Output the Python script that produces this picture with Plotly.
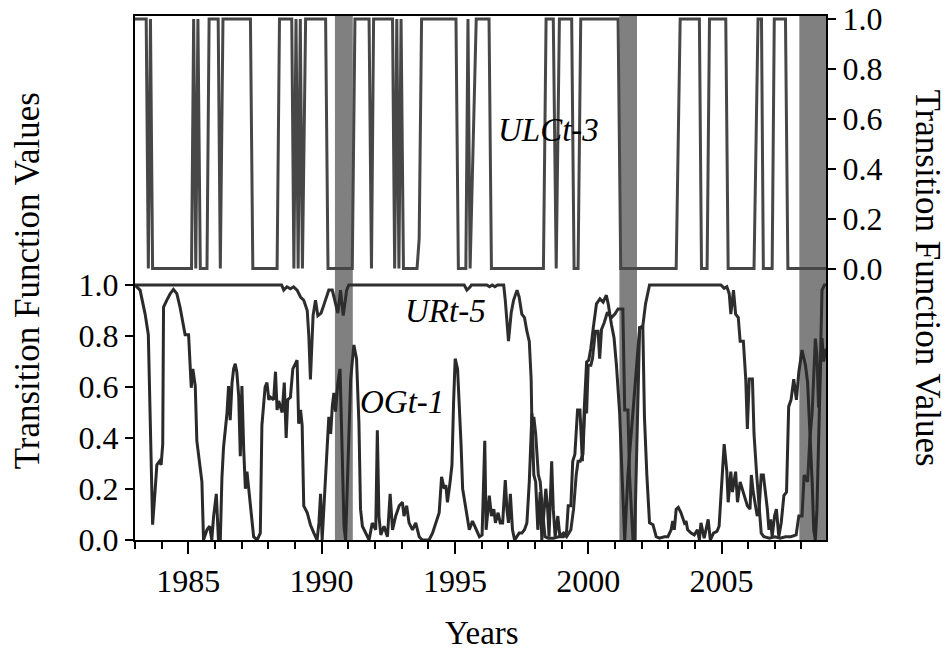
import plotly.graph_objects as go

# ---------------- data ----------------
recession_start = [1990.50, 2001.17, 2007.92]
recession_end = [1991.17, 2001.83, 2008.92]

ulc_years = [1983.00, 1983.42, 1983.50, 1983.58, 1983.66,
             1985.12, 1985.20, 1985.28, 1985.36, 1985.45, 1985.70, 1985.78,
             1986.12, 1986.20, 1986.30, 1987.33, 1987.42, 1988.33, 1988.42,
             1988.88, 1988.96, 1989.04, 1989.12, 1989.20, 1989.28, 1989.40,
             1990.15, 1990.24, 1991.15, 1991.25, 1991.78, 1991.87, 1991.95,
             1992.66, 1992.74, 1992.82, 1992.90, 1992.98, 1993.07, 1993.58,
             1993.66, 1993.75, 1995.04, 1995.13, 1995.41, 1995.49, 1995.57,
             1995.80, 1996.28, 1996.37, 1998.32, 1998.42, 1998.69, 1998.80,
             1998.92, 1999.38, 1999.47, 1999.62, 1999.72, 2001.12, 2001.22,
             2003.30, 2003.45, 2004.17, 2004.25, 2004.46, 2004.55, 2005.16,
             2005.25, 2006.22, 2006.37, 2006.50, 2006.57, 2006.90, 2006.98,
             2007.40, 2007.49, 2008.92]
ulc_values = [1, 1, 0, 1, 0,
              0, 1, 0, 1, 0, 0, 1,
              1, 0, 1, 1, 0, 0, 1,
              1, 0, 1, 0, 1, 0, 1,
              1, 0, 0, 1, 1, 0, 1,
              1, 0, 1, 0, 1, 0, 0,
              0.12, 1, 1, 0, 0, 1, 0,
              1, 1, 0, 0, 1, 1, 0,
              1, 1, 0, 0, 1, 1, 0,
              0, 1, 1, 0, 0, 1, 1,
              0, 0, 1, 1, 0, 0, 1,
              1, 0, 0]

ur_years = [1983.00, 1988.50, 1988.58, 1988.70, 1988.83, 1988.95, 1989.08, 1989.21,
            1989.33, 1989.46, 1989.52, 1989.58, 1989.68, 1989.77, 1989.86, 1989.98,
            1990.11, 1990.27, 1990.40, 1990.52, 1990.61, 1990.71, 1990.81, 1990.94,
            1991.02, 1995.35, 1995.45, 1995.55, 1995.62, 1996.20, 1996.30, 1996.40,
            1996.50, 1996.60, 1996.83, 1996.89, 1997.01, 1997.11, 1997.20, 1997.33,
            1997.41, 1997.51, 1997.61, 1997.70, 1997.79, 1997.86, 1997.89, 1997.96,
            1998.03, 1998.13, 1998.20, 1998.28, 1998.38, 1998.50, 1998.70, 1998.90,
            1999.07, 1999.19, 1999.35, 1999.45, 1999.55, 1999.62, 1999.70, 1999.80,
            1999.87, 1999.94, 2000.00, 2000.10, 2000.16, 2000.27, 2000.37, 2000.43,
            2000.50, 2000.60, 2000.72, 2000.87, 2001.00, 2001.12, 2001.30, 2001.37,
            2001.49, 2001.55, 2001.68, 2001.74, 2001.83, 2001.93, 2002.05, 2002.15,
            2002.30, 2004.85, 2004.98, 2005.10, 2005.20, 2005.29, 2005.35, 2005.45,
            2005.53, 2005.63, 2005.70, 2005.82, 2005.91, 2005.97, 2006.04, 2006.16,
            2006.22, 2006.32, 2006.41, 2006.49, 2006.59, 2006.80, 2007.00, 2007.20,
            2007.40, 2007.60, 2007.80, 2007.90, 2008.02, 2008.10, 2008.23, 2008.31,
            2008.40, 2008.52, 2008.58, 2008.64, 2008.71, 2008.77, 2008.86, 2008.92]
ur_values = [1.0, 1.0, 0.98, 0.993, 0.985, 0.993, 0.98, 0.953,
             0.94, 0.90, 0.80, 0.63, 0.88, 0.94, 0.88, 0.89,
             0.93, 0.98, 0.98, 0.93, 0.89, 0.98, 0.88, 0.98,
             1.0, 1.0, 0.98, 0.99, 1.0, 1.0, 0.993, 1.0,
             0.993, 1.0, 1.0, 0.94, 0.78, 0.89, 0.94, 0.98,
             0.953, 0.886, 0.872, 0.819, 0.779, 0.631, 0.443, 0.483,
             0.416, 0.255, 0.228, 0.121, 0.013, 0.007, 0.007, 0.013,
             0.027, 0.013, 0.040, 0.121, 0.255, 0.309, 0.309, 0.336,
             0.510, 0.497, 0.685, 0.685, 0.711, 0.819, 0.819, 0.711,
             0.826, 0.852, 0.893, 0.872, 0.886, 0.906, 0.906, 0.51,
             0.51, 0.255, 0.0, 0.0, 0.389, 0.832, 0.84, 0.926,
             1.0, 1.0, 1.0, 0.987, 0.993, 0.966, 0.886, 0.98,
             0.886, 0.872, 0.779, 0.779, 0.631, 0.436, 0.631, 0.631,
             0.416, 0.255, 0.121, 0.027, 0.013, 0.007, 0.013, 0.007,
             0.013, 0.013, 0.020, 0.094, 0.094, 0.255, 0.228, 0.389,
             0.50, 0.79, 0.725, 0.52, 0.70, 0.98, 1.0, 1.0]

og_years = [1983.00, 1983.19, 1983.38, 1983.50, 1983.56, 1983.63, 1983.66, 1983.75,
            1983.82, 1983.92, 1983.98, 1984.04, 1984.07, 1984.19, 1984.32, 1984.44,
            1984.57, 1984.69, 1984.82, 1984.88, 1985.01, 1985.07, 1985.11, 1985.17,
            1985.26, 1985.32, 1985.45, 1985.51, 1985.57, 1985.70, 1985.80, 1985.88,
            1985.95, 1986.05, 1986.13, 1986.20, 1986.26, 1986.32, 1986.45, 1986.51,
            1986.57, 1986.64, 1986.70, 1986.76, 1986.82, 1986.89, 1986.95, 1987.01,
            1987.08, 1987.14, 1987.20, 1987.26, 1987.33, 1987.45, 1987.58, 1987.70,
            1987.76, 1987.88, 1987.95, 1988.02, 1988.08, 1988.20, 1988.27, 1988.33,
            1988.39, 1988.52, 1988.60, 1988.67, 1988.73, 1988.83, 1988.92, 1989.08,
            1989.14, 1989.21, 1989.27, 1989.33, 1989.46, 1989.58, 1989.71, 1989.83,
            1989.90, 1989.96, 1990.02, 1990.15, 1990.21, 1990.27, 1990.34, 1990.40,
            1990.46, 1990.52, 1990.61, 1990.69, 1990.77, 1990.84, 1990.90, 1990.96,
            1991.09, 1991.21, 1991.31, 1991.40, 1991.46, 1991.53, 1991.65, 1991.78,
            1991.90, 1992.03, 1992.09, 1992.15, 1992.22, 1992.34, 1992.47, 1992.57,
            1992.66, 1992.78, 1992.91, 1993.03, 1993.09, 1993.19, 1993.28, 1993.41,
            1993.53, 1993.66, 1993.78, 1993.91, 1994.03, 1994.16, 1994.29, 1994.41,
            1994.50, 1994.60, 1994.66, 1994.72, 1994.82, 1994.89, 1994.95, 1995.01,
            1995.10, 1995.16, 1995.23, 1995.29, 1995.41, 1995.54, 1995.66, 1995.79,
            1995.92, 1996.02, 1996.12, 1996.17, 1996.24, 1996.29, 1996.37, 1996.46,
            1996.52, 1996.62, 1996.70, 1996.79, 1996.89, 1996.95, 1997.01, 1997.08,
            1997.16, 1997.24, 1997.41, 1997.51, 1997.61, 1997.70, 1997.79, 1997.89,
            1997.96, 1998.03, 1998.11, 1998.20, 1998.26, 1998.36, 1998.41, 1998.48,
            1998.53, 1998.63, 1998.69, 1998.76, 1998.86, 1998.94, 1999.07, 1999.19,
            1999.25, 1999.35, 1999.42, 1999.50, 1999.60, 1999.69, 1999.78, 1999.85,
            1999.94, 2000.02, 2000.10, 2000.19, 2000.31, 2000.44, 2000.56, 2000.68,
            2000.75, 2000.87, 2000.97, 2001.06, 2001.18, 2001.27, 2001.37, 2001.49,
            2001.68, 2001.83, 2001.93, 2002.05, 2002.11, 2002.20, 2002.30, 2002.43,
            2002.55, 2002.67, 2002.86, 2002.99, 2003.11, 2003.17, 2003.23, 2003.30,
            2003.38, 2003.48, 2003.61, 2003.67, 2003.73, 2003.86, 2003.98, 2004.10,
            2004.17, 2004.23, 2004.35, 2004.50, 2004.58, 2004.70, 2004.83, 2004.91,
            2005.00, 2005.10, 2005.20, 2005.25, 2005.35, 2005.41, 2005.53, 2005.60,
            2005.70, 2005.78, 2005.87, 2005.97, 2006.07, 2006.12, 2006.19, 2006.28,
            2006.34, 2006.41, 2006.49, 2006.57, 2006.65, 2006.72, 2006.78, 2006.84,
            2006.90, 2006.99, 2007.06, 2007.15, 2007.24, 2007.34, 2007.44, 2007.52,
            2007.61, 2007.71, 2007.81, 2007.90, 2008.02, 2008.15, 2008.23, 2008.31,
            2008.40, 2008.46, 2008.52, 2008.58, 2008.64, 2008.71, 2008.77, 2008.83,
            2008.92]
og_values = [1.0, 0.98, 0.886, 0.805, 0.523, 0.121, 0.060, 0.188,
             0.295, 0.309, 0.295, 0.376, 0.913, 0.94, 0.966, 0.983,
             0.966, 0.913, 0.832, 0.805, 0.805, 0.671, 0.597, 0.671,
             0.604, 0.389, 0.282, 0.228, 0.0, 0.040, 0.054, 0.0,
             0.094, 0.181, 0.0, 0.0, 0.242, 0.362, 0.497, 0.604,
             0.470, 0.617, 0.671, 0.691, 0.658, 0.564, 0.329, 0.604,
             0.349, 0.201, 0.268, 0.201, 0.121, 0.013, 0.0, 0.027,
             0.45, 0.60, 0.617, 0.55, 0.56, 0.55, 0.66, 0.51,
             0.545, 0.50, 0.617, 0.40, 0.55, 0.56, 0.671, 0.705,
             0.456, 0.51, 0.45, 0.134, 0.107, 0.060, 0.027, 0.0,
             0.067, 0.181, 0.0, 0.282, 0.389, 0.483, 0.416, 0.523,
             0.577, 0.503, 0.617, 0.671, 0.349, 0.054, 0.0, 0.188,
             0.631, 0.765, 0.711, 0.456, 0.121, 0.054, 0.027, 0.0,
             0.067, 0.040, 0.430, 0.094, 0.020, 0.054, 0.013, 0.181,
             0.040, 0.094, 0.134, 0.148, 0.094, 0.134, 0.067, 0.040,
             0.067, 0.013, 0.0, 0.0, 0.0, 0.027, 0.067, 0.107,
             0.248, 0.201, 0.215, 0.148, 0.228, 0.295, 0.537, 0.711,
             0.671, 0.550, 0.376, 0.201, 0.121, 0.040, 0.074, 0.040,
             0.013, 0.020, 0.389, 0.040, 0.121, 0.174, 0.094, 0.121,
             0.067, 0.107, 0.067, 0.067, 0.235, 0.121, 0.067, 0.181,
             0.040, 0.0, 0.027, 0.027, 0.040, 0.067, 0.228, 0.497,
             0.255, 0.228, 0.040, 0.188, 0.0, 0.121, 0.201, 0.121,
             0.013, 0.309, 0.121, 0.013, 0.094, 0.013, 0.013, 0.034,
             0.134, 0.134, 0.309, 0.336, 0.510, 0.510, 0.309, 0.510,
             0.698, 0.705, 0.752, 0.832, 0.926, 0.946, 0.933, 0.960,
             0.926, 0.846, 0.792, 0.685, 0.497, 0.255, 0.0, 0.255,
             0.51, 0.725, 0.832, 0.832, 0.483, 0.255, 0.067, 0.060,
             0.013, 0.007, 0.013, 0.013, 0.040, 0.074, 0.040, 0.121,
             0.128, 0.107, 0.067, 0.074, 0.040, 0.027, 0.020, 0.040,
             0.0, 0.067, 0.007, 0.081, 0.0, 0.027, 0.034, 0.054,
             0.201, 0.376, 0.268, 0.148, 0.268, 0.188, 0.268, 0.148,
             0.228, 0.201, 0.174, 0.134, 0.121, 0.255, 0.188, 0.121,
             0.094, 0.121, 0.255, 0.255, 0.188, 0.121, 0.040, 0.081,
             0.013, 0.094, 0.121, 0.013, 0.067, 0.174, 0.188, 0.523,
             0.550, 0.631, 0.550, 0.658, 0.745, 0.685, 0.617, 0.443,
             0.228, 0.040, 0.0, 0.121, 0.389, 0.671, 0.792, 0.70,
             0.75]

left_ticks = [0.0, 0.2, 0.4, 0.6, 0.8, 1.0]
left_labels = ["0.0", "0.2", "0.4", "0.6", "0.8", "1.0"]
x_major = [1985, 1990, 1995, 2000, 2005]
x_labels = ["1985", "1990", "1995", "2000", "2005"]

# ---------------- figure ----------------
FONT = "Liberation Serif, Times New Roman, Times, DejaVu Serif, serif"
fig = go.Figure()

fig.add_trace(go.Scatter(x=ulc_years, y=ulc_values, mode="lines", yaxis="y2",
                         line=dict(color="#474747", width=3), showlegend=False))
fig.add_trace(go.Scatter(x=ur_years, y=ur_values, mode="lines", yaxis="y",
                         line=dict(color="#2e2e2e", width=3), showlegend=False))
fig.add_trace(go.Scatter(x=og_years, y=og_values, mode="lines", yaxis="y",
                         line=dict(color="#2a2a2a", width=3), showlegend=False))

for s, e in zip(recession_start, recession_end):
    fig.add_shape(type="rect", xref="x", yref="paper", x0=s, x1=e, y0=0, y1=1,
                  fillcolor="#808080", line=dict(width=0), layer="below")

ann_font = dict(family=FONT, size=33, color="black")
annotations = [
    dict(text="<i>ULCt-3</i>", x=0.598, y=0.783),
    dict(text="<i>URt-5</i>", x=0.450, y=0.437),
    dict(text="<i>OGt-1</i>", x=0.386, y=0.263),
]
for a in annotations:
    fig.add_annotation(xref="paper", yref="paper", showarrow=False,
                       xanchor="center", yanchor="middle", font=ann_font, **a)

title_font = dict(family=FONT, size=35, color="black")
fig.add_annotation(text="Transition Function Values", xref="paper", yref="paper",
                   x=-0.156, y=0.494, textangle=-90, showarrow=False,
                   xanchor="center", yanchor="middle", font=title_font)
fig.add_annotation(text="Transition Function Values", xref="paper", yref="paper",
                   x=1.147, y=0.500, textangle=90, showarrow=False,
                   xanchor="center", yanchor="middle", font=title_font)
fig.add_annotation(text="Years", xref="paper", yref="paper",
                   x=0.502, y=-0.1775, showarrow=False,
                   xanchor="center", yanchor="middle",
                   font=dict(family=FONT, size=33, color="black"))

tick_font = dict(family=FONT, size=32, color="black")
# page body adds an 8px offset, so the figure is 8px smaller and margins shifted
fig.update_layout(
    width=943, height=646,
    margin=dict(l=127, r=125, t=8, b=114, autoexpand=False),
    paper_bgcolor="white", plot_bgcolor="white",
    showlegend=False,
    xaxis=dict(range=[1983.0, 2008.92], showgrid=False, zeroline=False,
               showline=True, mirror=True, linecolor="black", linewidth=2,
               tickmode="array", tickvals=x_major, ticktext=x_labels,
               ticks="outside", ticklen=12, tickwidth=1.5, tickcolor="black",
               minor=dict(tickmode="linear", tick0=1983, dtick=1, ticks="outside",
                          ticklen=7, tickwidth=1.5, tickcolor="black", showgrid=False),
               tickfont=tick_font, ticklabeloverflow="allow"),
    yaxis=dict(range=[0, 2.055], showgrid=False, zeroline=False,
               showline=True, mirror=True, linecolor="black", linewidth=2,
               tickmode="array", tickvals=left_ticks, ticktext=left_labels,
               ticks="outside", ticklen=8, tickwidth=1.5, tickcolor="black",
               tickfont=tick_font, ticklabeloverflow="allow"),
    yaxis2=dict(range=[-1.088, 1.012], overlaying="y", side="right",
                showgrid=False, zeroline=False, showline=True,
                linecolor="black", linewidth=2,
                tickmode="array", tickvals=left_ticks, ticktext=left_labels,
                ticks="outside", ticklen=8, tickwidth=1.5, tickcolor="black",
                tickfont=tick_font, ticklabeloverflow="allow"),
)

fig.write_html("out.html")
